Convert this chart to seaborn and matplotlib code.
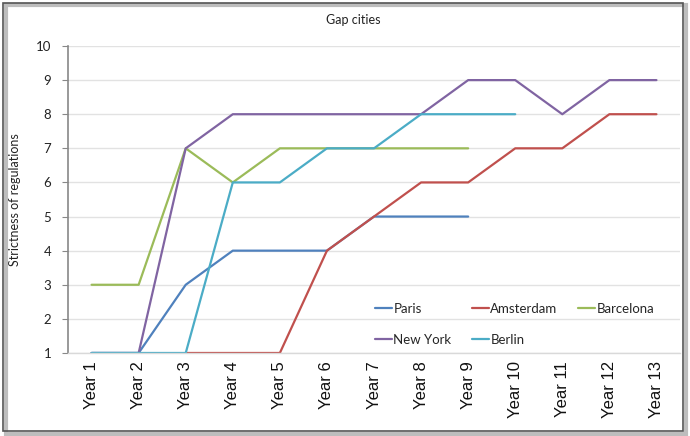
import numpy as np
import pandas as pd
import matplotlib
matplotlib.use("Agg")
import matplotlib.pyplot as plt
from matplotlib.patches import Rectangle
import seaborn as sns

years = [f"Year {i}" for i in range(1, 14)]
nan = np.nan
paris     = [1, 1, 3, 4, 4, 4, 5, 5, 5, nan, nan, nan, nan]
amsterdam = [nan, nan, 1, 1, 1, 4, 5, 6, 6, 7, 7, 8, 8]
barcelona = [3, 3, 7, 6, 7, 7, 7, 7, 7, nan, nan, nan, nan]
new_york  = [1, 1, 7, 8, 8, 8, 8, 8, 9, 9, 8, 9, 9]
berlin    = [1, 1, 1, 6, 6, 7, 7, 8, 8, 8, nan, nan, nan]

cities = ["Paris", "Amsterdam", "Barcelona", "New York", "Berlin"]
series = [paris, amsterdam, barcelona, new_york, berlin]
colors = ["#4F81BD", "#C0504D", "#9BBB59", "#8064A2", "#4BACC6"]

rows = []
for city, vals in zip(cities, series):
    for i, v in enumerate(vals):
        if not np.isnan(v):
            rows.append({"x": i, "year": years[i], "city": city, "value": v})
df = pd.DataFrame(rows)

sns.set_theme(style="white")
plt.rcParams["font.family"] = ["Lato", "DejaVu Sans"]

fig = plt.figure(figsize=(6.9, 4.36), dpi=100)
ax = fig.add_axes([0.0986, 0.1904, 0.8869, 0.7041])

sns.lineplot(data=df, x="x", y="value", hue="city", hue_order=cities,
             palette=colors, linewidth=1.6, ax=ax, sort=False,
             estimator=None, legend=True)

ax.set_xlim(-0.5, 12.5)
ax.set_ylim(1, 10)
ax.set_yticks(range(1, 11))
ax.set_yticklabels([str(i) for i in range(1, 11)], fontsize=9.5, color="#222222")
ax.set_xticks(range(13))
ax.set_xticklabels(years, rotation=90, fontsize=12, family="Liberation Sans",
                   color="#111111")
ax.tick_params(axis="x", length=0, pad=6)
ax.tick_params(axis="y", length=4, width=0.8, color="#888888", pad=8, left=True)
ax.set_xlabel("")
ax.set_ylabel("Strictness of regulations", fontsize=9, color="#222222", labelpad=11)
ax.yaxis.grid(True, color="#e2e2e2", linewidth=1)
ax.set_axisbelow(True)
for s in ["top", "right"]:
    ax.spines[s].set_visible(False)
ax.spines["left"].set_color("#888888")
ax.spines["left"].set_linewidth(1.2)
ax.spines["bottom"].set_color("#d9d9d9")
ax.spines["bottom"].set_linewidth(1)

fig.text(0.512, 0.953, "Gap cities", ha="center", va="center", fontsize=9,
         color="#222222")

handles, labels = ax.get_legend_handles_labels()
hmap = dict(zip(labels, handles))
order = ["Paris", "New York", "Amsterdam", "Berlin", "Barcelona"]
leg = ax.legend([hmap[k] for k in order], order, ncol=3, frameon=False,
                loc="lower left", bbox_to_anchor=(0.482, -0.015),
                handlelength=1.3, handletextpad=0.1, columnspacing=1.55,
                labelspacing=1.45, fontsize=9.5)

# frame with drop shadow around the whole chart
fig.patches.append(Rectangle((0.009, 0.004), 0.985, 0.985,
                             transform=fig.transFigure, facecolor="none",
                             edgecolor="#bdbdbd", linewidth=3, zorder=0))
fig.patches.append(Rectangle((0.005, 0.012), 0.985, 0.98,
                             transform=fig.transFigure, facecolor="none",
                             edgecolor="#555555", linewidth=1.2, zorder=1))

fig.savefig("out.png", dpi=100)
